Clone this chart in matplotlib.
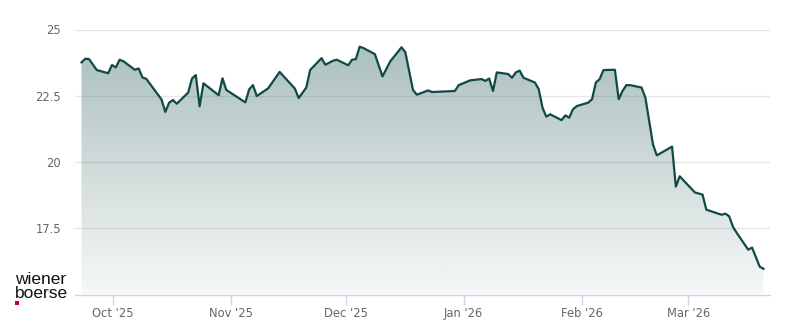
import numpy as np
import pandas as pd
import matplotlib
matplotlib.use("Agg")
import matplotlib.pyplot as plt
import matplotlib.dates as mdates
from matplotlib.patches import PathPatch, Rectangle

# share price (trading days, turning points)
dates = [
    "2025-09-22", "2025-09-23", "2025-09-24", "2025-09-26", "2025-09-29", "2025-09-30",
    "2025-10-01", "2025-10-02", "2025-10-03", "2025-10-06", "2025-10-07", "2025-10-08",
    "2025-10-09", "2025-10-13", "2025-10-14", "2025-10-15", "2025-10-16", "2025-10-17",
    "2025-10-20", "2025-10-21", "2025-10-22", "2025-10-23", "2025-10-24", "2025-10-28",
    "2025-10-29", "2025-10-30", "2025-11-04", "2025-11-05", "2025-11-06", "2025-11-07",
    "2025-11-10", "2025-11-13", "2025-11-17", "2025-11-18", "2025-11-20", "2025-11-21",
    "2025-11-24", "2025-11-25", "2025-11-27", "2025-11-28", "2025-12-01", "2025-12-02",
    "2025-12-03", "2025-12-04", "2025-12-05", "2025-12-08", "2025-12-10", "2025-12-12",
    "2025-12-15", "2025-12-16", "2025-12-18", "2025-12-19", "2025-12-22", "2025-12-23",
    "2025-12-29", "2025-12-30", "2026-01-02", "2026-01-05", "2026-01-06", "2026-01-07",
    "2026-01-08", "2026-01-09", "2026-01-12", "2026-01-13", "2026-01-14", "2026-01-15",
    "2026-01-16", "2026-01-19", "2026-01-20", "2026-01-21", "2026-01-22", "2026-01-23",
    "2026-01-26", "2026-01-27", "2026-01-28", "2026-01-29", "2026-01-30", "2026-02-02",
    "2026-02-03", "2026-02-04", "2026-02-05", "2026-02-06", "2026-02-09", "2026-02-10",
    "2026-02-11", "2026-02-12", "2026-02-13", "2026-02-16", "2026-02-17", "2026-02-19",
    "2026-02-20", "2026-02-24", "2026-02-25", "2026-02-26", "2026-03-02", "2026-03-03",
    "2026-03-04", "2026-03-05", "2026-03-09", "2026-03-10", "2026-03-11", "2026-03-12",
    "2026-03-13", "2026-03-16", "2026-03-17", "2026-03-19", "2026-03-20",
]
prices = [
    23.76, 23.90, 23.88, 23.47, 23.35, 23.66,
    23.57, 23.86, 23.80, 23.48, 23.53, 23.19,
    23.14, 22.36, 21.89, 22.24, 22.34, 22.20,
    22.62, 23.15, 23.28, 22.10, 22.97, 22.52,
    23.16, 22.72, 22.25, 22.74, 22.90, 22.49,
    22.78, 23.40, 22.77, 22.41, 22.81, 23.47,
    23.92, 23.67, 23.82, 23.86, 23.65, 23.86,
    23.88, 24.35, 24.30, 24.07, 23.23, 23.79,
    24.33, 24.14, 22.72, 22.54, 22.70, 22.64,
    22.68, 22.90, 23.08, 23.13, 23.06, 23.15,
    22.68, 23.38, 23.32, 23.18, 23.38, 23.45,
    23.18, 23.00, 22.75, 22.05, 21.71, 21.80,
    21.58, 21.76, 21.67, 21.99, 22.11, 22.24,
    22.37, 23.00, 23.13, 23.47, 23.48, 22.37,
    22.68, 22.90, 22.90, 22.81, 22.43, 20.66,
    20.25, 20.58, 19.07, 19.46, 18.85, 18.81,
    18.77, 18.20, 18.01, 18.05, 17.95, 17.55,
    17.32, 16.69, 16.77, 16.05, 15.97,
]
month_ticks = ["2025-10-01", "2025-11-01", "2025-12-01", "2026-01-01", "2026-02-01", "2026-03-01"]
month_labels = ["Oct '25", "Nov '25", "Dec '25", "Jan '26", "Feb '26", "Mar '26"]
y_ticks = [17.5, 20, 22.5, 25]
y_labels = ["17.5", "20", "22.5", "25"]

line_col = "#0f4a44"
x = mdates.date2num(pd.to_datetime(dates) + pd.Timedelta(hours=17))
y = np.array(prices)
ymin, ymax = 15, 25

fig = plt.figure(figsize=(8, 3.24), dpi=100)
ax = fig.add_axes([75 / 800, 1 - 294.5 / 324, 695 / 800, 265 / 324])

x0 = mdates.date2num(pd.Timestamp("2025-09-21"))
x1 = mdates.date2num(pd.Timestamp("2026-03-22 10:00"))

# gradient area under the line
poly = ax.fill_between(x, y, ymin, facecolor="none", edgecolor="none")
clip = PathPatch(poly.get_paths()[0], transform=ax.transData, facecolor="none", edgecolor="none")
ax.add_patch(clip)
alpha = np.linspace(0.04, 0.37, 256)[:, None]
rgb = np.array(matplotlib.colors.to_rgb(line_col))
grad = np.ones((256, 1, 4))
grad[..., :3] = rgb
grad[..., 3] = alpha
im = ax.imshow(grad, extent=[x0, x1, ymin, ymax], origin="lower", aspect="auto", zorder=1)
im.set_clip_path(clip)

ax.plot(x, y, color=line_col, lw=1.6, zorder=3, solid_joinstyle="round")

ax.set_xlim(x0, x1)
ax.set_ylim(ymin, ymax)

for v in y_ticks:
    ax.axhline(v, color="#e6e6e6", lw=1, zorder=0)
ax.set_yticks(y_ticks)
ax.set_yticklabels(y_labels)
ax.set_xticks(mdates.date2num(pd.to_datetime(month_ticks)))
ax.set_xticklabels(month_labels)
ax.tick_params(axis="y", length=0, pad=10, labelsize=8.3, labelcolor="#666666")
ax.tick_params(axis="x", length=7, width=1, color="#ccd6eb", pad=2, labelsize=8.3, labelcolor="#666666")

for s in ["top", "right", "left"]:
    ax.spines[s].set_visible(False)
ax.spines["bottom"].set_color("#ccd6eb")
ax.spines["bottom"].set_linewidth(1)
ax.spines["bottom"].set_zorder(4)

# logo
fig.text(15 / 800, 1 - 284 / 324, "wiener", fontsize=12.5, family="Liberation Sans", color="#111111", va="baseline")
fig.text(15 / 800, 1 - 298 / 324, "boerse", fontsize=12.5, family="Liberation Sans", color="#111111", va="baseline")
fig.patches.append(Rectangle((15 / 800, 1 - 305 / 324), 4 / 800, 4 / 324,
                             transform=fig.transFigure, facecolor="#d0021b", edgecolor="none"))

fig.savefig("out.png", dpi=100)
